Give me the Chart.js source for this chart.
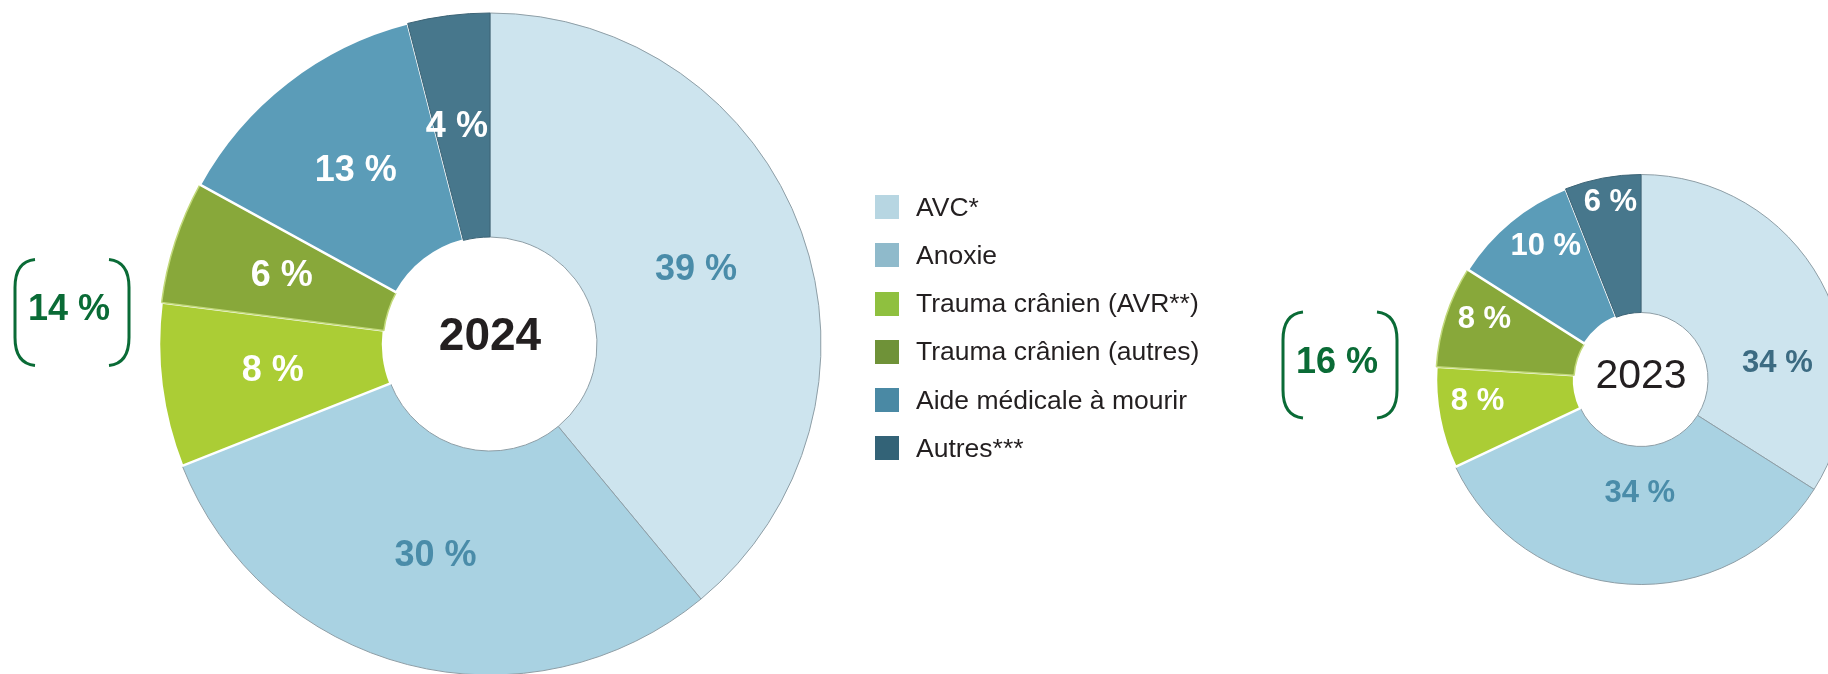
<!DOCTYPE html>
<html lang="fr">
<head>
<meta charset="utf-8">
<title>Causes de décès - 2024 / 2023</title>
<script src="https://cdn.jsdelivr.net/npm/chart.js@4.4.1/dist/chart.umd.min.js"></script>
<style>
  body { margin: 0; background: #fff; overflow: hidden; }
  #wrap { position: relative; width: 1828px; height: 674px; overflow: hidden; }
  canvas { position: absolute; top: 0; }
  #c2024 { left: 0; }
  #c2023 { left: 1241px; }
  #legende { position: absolute; left: 875px; top: 195px; font-family: 'Liberation Sans', Arial, sans-serif; font-size: 26.5px; color: #231f20; }
  .ligne { display: flex; align-items: center; height: 24px; margin-bottom: 24.3px; white-space: nowrap; }
  .carre { width: 24px; height: 24px; margin-right: 17px; flex: none; }
</style>
</head>
<body>
<div id="wrap">
  <canvas id="c2024" width="980" height="688"></canvas>
  <canvas id="c2023" width="800" height="759"></canvas>
  <div id="legende"></div>
</div>
<script>
// Données
const categories = ['AVC*', 'Anoxie', 'Trauma crânien (AVR**)', 'Trauma crânien (autres)', 'Aide médicale à mourir', 'Autres***'];
const valeurs2024 = [39, 30, 8, 6, 13, 4];
const valeurs2023 = [34, 34, 8, 8, 10, 6];
const annees = ['2024', '2023'];

// Couleurs des portions et de la légende
const couleursPortions = ['#cde4ee', '#a9d2e2', '#abcd35', '#88a83a', '#5b9cb8', '#47778c'];
const couleursLegende = ['#b7d6e2', '#8fbacb', '#8fc03f', '#6f9238', '#4a89a4', '#336377'];
const couleursBordure = ['#8e9ea6', '#8e9ea6', '#ffffff', '#c2d97a', '#ffffff', '#3d6476'];
const largeursBordure = [1, 1, 2.5, 1.5, 2.5, 1];

// Étiquettes % dans les portions
const pluginEtiquettes = {
  id: 'etiquettes',
  afterDatasetsDraw(chart, args, opts) {
    const ctx = chart.ctx;
    const meta = chart.getDatasetMeta(0);
    const data = chart.data.datasets[0].data;
    ctx.save();
    ctx.textAlign = 'center';
    ctx.textBaseline = 'middle';
    ctx.font = 'bold ' + opts.taille + 'px "Liberation Sans", Arial, sans-serif';
    meta.data.forEach((arc, i) => {
      const p = arc.getProps(['x', 'y', 'startAngle', 'endAngle', 'innerRadius', 'outerRadius'], true);
      const ang = (p.startAngle + p.endAngle) / 2 + (opts.decalage ? opts.decalage[i] : 0) * Math.PI / 180;
      const f = opts.rayons ? opts.rayons[i] : 0.5;
      const r = p.innerRadius + f * (p.outerRadius - p.innerRadius);
      ctx.fillStyle = opts.couleurs[i];
      ctx.fillText(data[i] + ' %', p.x + r * Math.cos(ang), p.y + r * Math.sin(ang));
    });
    ctx.restore();
  }
};

// Année au centre + accolade du total trauma crânien
const pluginCentre = {
  id: 'centre',
  afterDraw(chart, args, opts) {
    const ctx = chart.ctx;
    const arc = chart.getDatasetMeta(0).data[0];
    const cx = arc.x, cy = arc.y;
    ctx.save();
    ctx.textAlign = 'center';
    ctx.textBaseline = 'middle';
    ctx.fillStyle = '#231f20';
    ctx.font = opts.poids + ' ' + opts.taille + 'px "Liberation Sans", Arial, sans-serif';
    ctx.fillText(opts.annee, cx, cy + opts.dyAnnee);

    // accolade verte
    const d = chart.data.datasets[0].data;
    const total = d[2] + d[3];
    const bx = cx + opts.accolade.dx, by = cy + opts.accolade.dy;
    const demiL = 57, demiH = 53, retrait = 20, courbe = 28;
    ctx.strokeStyle = '#0a6b36';
    ctx.lineWidth = 3;
    [-1, 1].forEach(s => {
      const xv = bx + s * demiL, xe = bx + s * (demiL - retrait);
      ctx.beginPath();
      ctx.moveTo(xe, by - demiH);
      ctx.quadraticCurveTo(xv, by - demiH + 2, xv, by - demiH + courbe);
      ctx.lineTo(xv, by + demiH - courbe);
      ctx.quadraticCurveTo(xv, by + demiH - 2, xe, by + demiH);
      ctx.stroke();
    });
    ctx.fillStyle = '#0a6b36';
    ctx.font = 'bold 36px "Liberation Sans", Arial, sans-serif';
    ctx.fillText(total + ' %', bx - 3, by - 2);
    ctx.restore();
  }
};

function creerDonut(id, valeurs, rayon, trou, optsEtiquettes, optsCentre) {
  return new Chart(document.getElementById(id), {
    type: 'doughnut',
    data: {
      labels: categories,
      datasets: [{
        data: valeurs,
        backgroundColor: couleursPortions,
        borderColor: couleursBordure,
        borderWidth: largeursBordure,
        hoverOffset: 0
      }]
    },
    options: {
      responsive: false,
      animation: false,
      radius: rayon,
      cutout: (trou / rayon * 100) + '%',
      layout: { padding: 0 },
      events: [],
      plugins: {
        legend: { display: false },
        tooltip: { enabled: false },
        etiquettes: optsEtiquettes,
        centre: optsCentre
      }
    },
    plugins: [pluginEtiquettes, pluginCentre]
  });
}

creerDonut('c2024', valeurs2024, 331, 107,
  { taille: 36, couleurs: ['#4a8ca9', '#4a8ca9', '#fff', '#fff', '#fff', '#fff'],
    decalage: [0, 0, 0, 0, 0, -1.5] },
  { annee: annees[0], poids: 'bold', taille: 46, dyAnnee: -7, accolade: { dx: -418, dy: -31.5 } });

creerDonut('c2023', valeurs2023, 205, 67,
  { taille: 31, couleurs: ['#3c6b82', '#4a8ca9', '#fff', '#fff', '#fff', '#fff'],
    rayons: [0.51, 0.34, 0.71, 0.73, 0.7, 0.82], decalage: [22, -3, 3, 3, 4, 1] },
  { annee: annees[1], poids: 'normal', taille: 41, dyAnnee: -3, accolade: { dx: -301, dy: -14.5 } });

// Légende
const legende = document.getElementById('legende');
categories.forEach((c, i) => {
  const ligne = document.createElement('div');
  ligne.className = 'ligne';
  const carre = document.createElement('span');
  carre.className = 'carre';
  carre.style.background = couleursLegende[i];
  const txt = document.createElement('span');
  txt.textContent = c;
  ligne.appendChild(carre);
  ligne.appendChild(txt);
  legende.appendChild(ligne);
});
</script>
</body>
</html>
